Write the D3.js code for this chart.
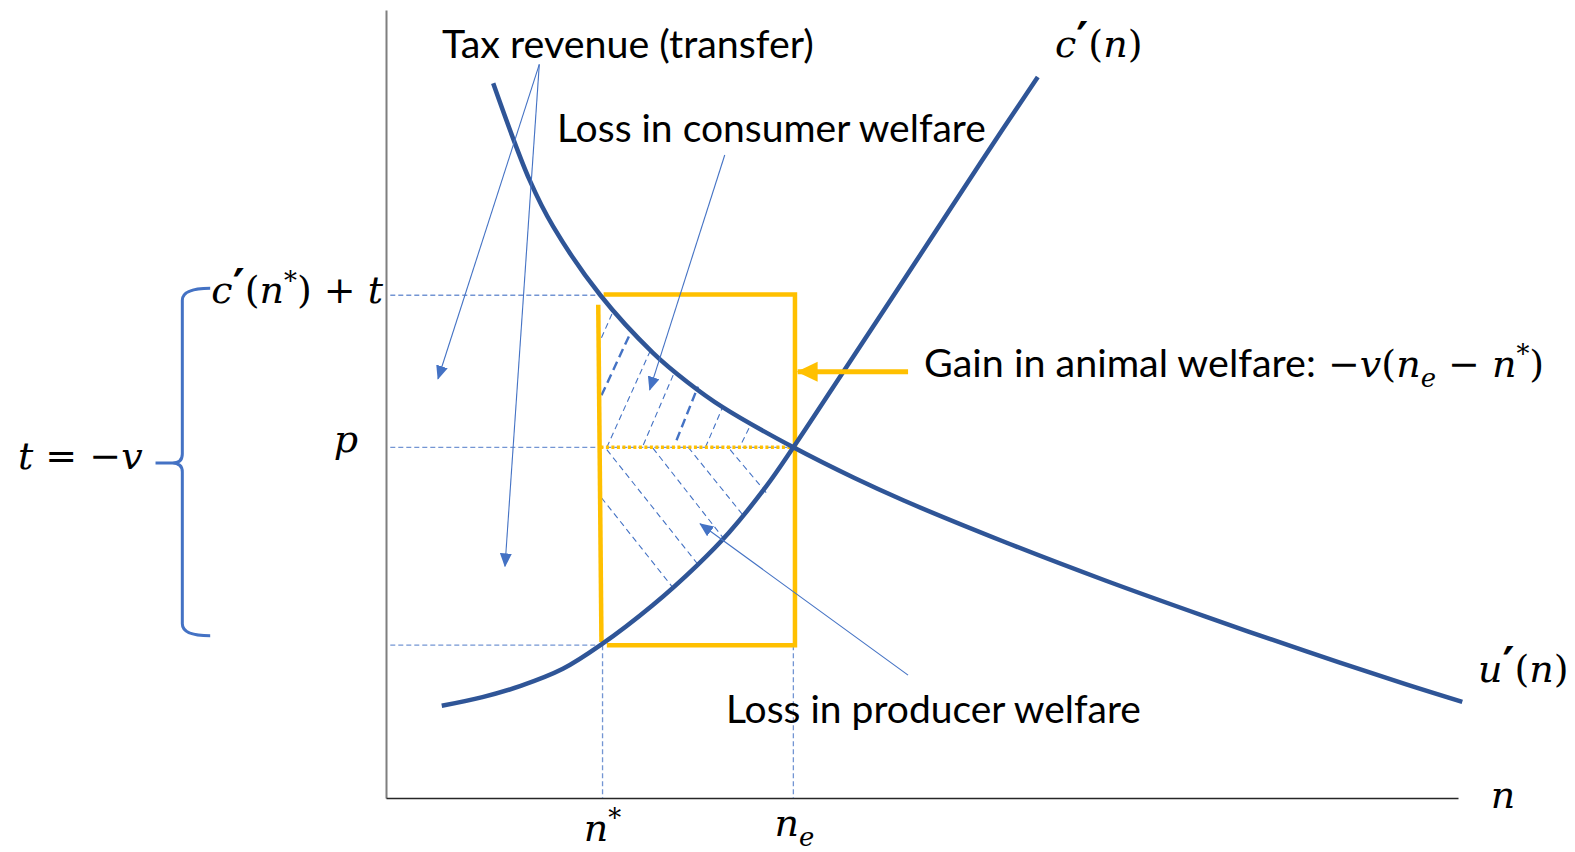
<!DOCTYPE html>
<meta charset="utf-8">
<head>
<style>
  body { margin: 0; background: #fff; }
  .curve { fill: none; stroke: #2F5597; stroke-width: 4.5; }
  .guide { fill: none; stroke: #4472C4; stroke-width: 1.3; stroke-dasharray: 5,3; opacity: 0.75; }
  .hatch { stroke: #4472C4; stroke-width: 1.1; stroke-dasharray: 6,4; }
  .hatch.thick { stroke-width: 2.4; stroke-dasharray: 9,5; }
  .box { fill: none; stroke: #FFC000; stroke-width: 4.5; }
  .note { stroke: #4472C4; stroke-width: 1.1; fill: none; }
  .label { font-family: Lato, sans-serif; fill: #000; }
  .math { font-family: "DejaVu Serif", serif; fill: #000; white-space: pre; }
</style>
<script src="https://d3js.org/d3.v7.min.js"></script>
</head>
<body>
<script>
var width = 1575, height = 852;

// curves: [n, value] in chart units (0..100 on both axes)
var uPrime = [[10.0,90.7],[13.4,78.4],[15.6,72.5],[20,63.8],[24.9,56.5],[28.1,52.8],[31.4,49.6],
              [38,44.5],[43.7,40.6],[48.3,37.75],[57.6,32.55],[67.1,27.6],[76.4,23.05],[85.8,18.63],
              [95.1,14.45],[100.4,12.2]];
var cPrime = [[5.2,11.7],[9,12.8],[12.5,14.2],[16.5,16.4],[20,19.4],[24.9,24.5],[29,29.5],[32,33.7],
              [35.5,39.6],[38,44.5],[43,54.8],[49.2,67.6],[55.4,80.5],[60.8,91.5]];

// key levels
var nStar = 20, nE = 38;
var pHigh = 63.8, pEq = 44.5, pLow = 19.4;

// hatching segments [n1, v1, n2, v2]
var hatchUpThin  = [[20.1,58.4,21.1,61.5],[20.6,44.5,24.8,57.2],[24.0,44.8,26.8,53.7],
                    [29.8,44.5,31.4,49.6],[33.2,45.1,34.1,47.6]];
var hatchUpThick = [[20.1,51.1,22.8,59.0],[27.1,45.4,29.1,52.2]];
var hatchDown    = [[20.1,38.1,26.7,26.8],[20.6,44.2,29.3,29.3],[24.9,44.4,31.4,33.1],
                    [28.2,44.5,33.3,35.9],[32.1,44.2,35.5,38.7]];

// annotation pointers [from n, from v, to n, to v]
var notes = [[14.3,93.1,4.85,53.2],[14.3,93.1,11.1,29.4],[31.6,81.6,24.6,51.8],[48.7,15.6,29.3,34.8]];
var gainArrow = [48.7,54.1,38.4,54.1];

// brace on the left: [n of tip, n of spine, n of ends], [v top, v mid, v bottom]
var braceN = [-21.5,-19.0,-16.4];
var braceV = [64.7,42.5,20.6];

var x = d3.scaleLinear().domain([0,100]).range([386,1458]);
var y = d3.scaleLinear().domain([0,100]).range([798,10]);

var svg = d3.select("body").append("svg")
    .attr("width", width).attr("height", height);

var defs = svg.append("defs");
defs.append("marker").attr("id","tri").attr("markerUnits","userSpaceOnUse")
    .attr("markerWidth",14).attr("markerHeight",12).attr("refX",13).attr("refY",6).attr("orient","auto")
  .append("path").attr("d","M0,0L14,6L0,12z").attr("fill","#4472C4");
defs.append("marker").attr("id","triO").attr("markerUnits","userSpaceOnUse")
    .attr("markerWidth",22).attr("markerHeight",22).attr("refX",20).attr("refY",11).attr("orient","auto")
  .append("path").attr("d","M0,1L21,11L0,21z").attr("fill","#FFC000");

// axes (no ticks)
svg.append("g").attr("transform","translate(" + x(0) + ",0)")
    .call(d3.axisLeft(y).tickValues([]).tickSizeOuter(0))
    .select(".domain").attr("stroke","#7F7F7F").attr("stroke-width",2);
svg.append("g").attr("transform","translate(0," + y(0) + ")")
    .call(d3.axisBottom(x).tickValues([]).tickSizeOuter(0))
    .select(".domain").attr("stroke","#262626").attr("stroke-width",1.5);

// dashed guides
var seg = function (a, b) { return "M" + x(a[0]) + "," + y(a[1]) + "L" + x(b[0]) + "," + y(b[1]); };
svg.append("path").attr("class","guide").attr("d", seg([0.4,pHigh],[nStar-0.4,pHigh]));
svg.append("path").attr("class","guide").attr("d", seg([0.4,pEq],[nE,pEq]));
svg.append("path").attr("class","guide").attr("d", seg([0.4,pLow],[nStar,pLow]));
svg.append("path").attr("class","guide").attr("d", seg([nStar+0.2,pLow],[nStar+0.2,0]));
svg.append("path").attr("class","guide").attr("d", seg([nE,pLow],[nE,0]));

// hatching
svg.selectAll(".hu").data(hatchUpThin).enter().append("path").attr("class","hatch")
    .attr("d", function (d) { return seg([d[0],d[1]],[d[2],d[3]]); });
svg.selectAll(".hk").data(hatchUpThick).enter().append("path").attr("class","hatch thick")
    .attr("d", function (d) { return seg([d[0],d[1]],[d[2],d[3]]); });
svg.selectAll(".hd").data(hatchDown).enter().append("path").attr("class","hatch")
    .attr("d", function (d) { return seg([d[0],d[1]],[d[2],d[3]]); });

// orange box
svg.append("path").attr("class","box")
    .attr("d", "M" + x(nStar+0.3) + "," + y(pHigh+0.1) + "L" + x(nE+0.15) + "," + y(pHigh+0.1) +
               "L" + x(nE+0.15) + "," + y(pLow) + "L" + x(nStar+0.6) + "," + y(pLow));
svg.append("path").attr("class","box").attr("d", seg([nStar-0.2,pHigh-1.2],[nStar+0.1,pLow+0.4]));
svg.append("path").attr("d", seg([nStar,pEq],[nE,pEq]))
    .attr("stroke","#FFC000").attr("stroke-width",3.5).attr("stroke-dasharray","3,2.5");

// curves
var line = d3.line().x(function (d) { return x(d[0]); }).y(function (d) { return y(d[1]); })
    .curve(d3.curveCatmullRom.alpha(0.5));
svg.append("path").attr("class","curve").attr("d", line(uPrime));
svg.append("path").attr("class","curve").attr("d", line(cPrime));

// pointers
svg.selectAll(".nt").data(notes).enter().append("path").attr("class","note")
    .attr("d", function (d) { return seg([d[0],d[1]],[d[2],d[3]]); })
    .attr("marker-end","url(#tri)");
svg.append("path").attr("d", seg([gainArrow[0],gainArrow[1]],[gainArrow[2],gainArrow[3]]))
    .attr("stroke","#FFC000").attr("stroke-width",5).attr("marker-end","url(#triO)");

// brace
var bx = braceN.map(x), by = braceV.map(y);
svg.append("path").attr("fill","none").attr("stroke","#4472C4").attr("stroke-width",3)
    .attr("d", "M" + bx[2] + "," + by[0] + "Q" + bx[1] + "," + by[0] + " " + bx[1] + "," + (by[0]+12) +
               "L" + bx[1] + "," + (by[1]-9) + "Q" + bx[1] + "," + by[1] + " " + (bx[1]-10) + "," + by[1] +
               "L" + bx[0] + "," + by[1] +
               "M" + (bx[1]-10) + "," + by[1] + "Q" + bx[1] + "," + by[1] + " " + bx[1] + "," + (by[1]+9) +
               "L" + bx[1] + "," + (by[2]-12) + "Q" + bx[1] + "," + by[2] + " " + bx[2] + "," + by[2]);

// text helpers
function fitLabel(px, py, str, w) {
    var t = svg.append("text").attr("class","label").attr("x",px).attr("y",py)
        .style("font-size","34px").text(str);
    var len = t.node().getComputedTextLength();
    t.style("font-size", (34 * w / len) + "px");
    return t;
}
function mathLabel(px, py, parts, size, anchor) {
    var t = svg.append("text").attr("class","math").attr("x",px).attr("y",py)
        .style("font-size", size + "px").attr("text-anchor", anchor || "start");
    var shift = 0;
    parts.forEach(function (p) {
        var want = p.sup ? -0.36 * size : (p.sub ? 0.26 * size : (p.pr ? -0.04 * size : 0));
        var ts = t.append("tspan").attr("dy", want - shift)
            .style("font-style", p.i ? "italic" : "normal")
            .style("font-size", (p.sup || p.sub) ? (0.68 * size) + "px" : (p.pr ? (1.2 * size) + "px" : null))
            .text(p.t);
        if (p.pr) ts.style("font-family", "'DejaVu Sans', sans-serif").style("font-weight", "bold");
        shift = want;
    });
    return t;
}

fitLabel(442, 58, "Tax revenue (transfer)", 372);
fitLabel(557, 142, "Loss in consumer welfare", 429);
fitLabel(726, 723, "Loss in producer welfare", 415);
fitLabel(924, 377, "Gain in animal welfare:", 392);

var MS = 38;
var prime = {t:"′", pr:1};
mathLabel(1328, 377, [{t:"−"},{t:"v",i:1},{t:"("},{t:"n",i:1},{t:"e",i:1,sub:1},{t:" − "},{t:"n",i:1},{t:"*",sup:1},{t:")"}], MS);
mathLabel(x(0) - 3, y(pHigh) + 8, [{t:"c",i:1},prime,{t:"("},{t:"n",i:1},{t:"*",sup:1},{t:") + "},{t:"t",i:1}], MS, "end");
mathLabel(346, y(pEq) + 5, [{t:"p",i:1}], MS, "middle");
mathLabel(18, 469, [{t:"t",i:1},{t:" = −"},{t:"v",i:1}], MS);
mathLabel(x(nStar) + 2, 841, [{t:"n",i:1},{t:"*",sup:1}], MS, "middle");
mathLabel(x(nE) + 1, 836, [{t:"n",i:1},{t:"e",i:1,sub:1}], MS, "middle");
mathLabel(1503, 808, [{t:"n",i:1}], MS, "middle");
mathLabel(1478, 682, [{t:"u",i:1},prime,{t:"("},{t:"n",i:1},{t:")"}], MS);
mathLabel(1055, 57, [{t:"c",i:1},prime,{t:"("},{t:"n",i:1},{t:")"}], MS);
</script>
</body>
</html>
